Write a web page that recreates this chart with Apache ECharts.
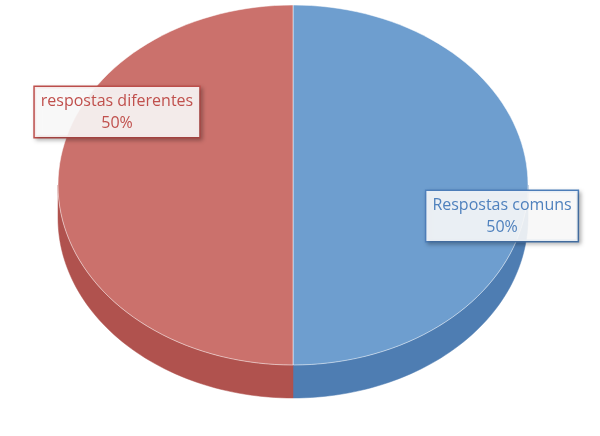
<!DOCTYPE html>
<html>
<head>
<meta charset="utf-8">
<script src="https://cdn.jsdelivr.net/npm/echarts@6/dist/echarts.min.js"></script>
<style>html,body{margin:0;background:#fff}#c{width:600px;height:436px}</style>
</head>
<body>
<div id="c"></div>
<script>
const names = ['Respostas comuns', 'respostas diferentes'];
const values = [50, 50];
const topColors = ['#6E9ECF', '#CB716C'];
const sideColors = ['#4E7DB2', '#B0524E'];
const textColors = ['#4F81BD', '#C0504D'];
const labelPos = [[502, 216], [117, 112]];

const chart = echarts.init(document.getElementById('c'));
const total = values.reduce((a, b) => a + b, 0);
const cx = 293, cy = 185, rx = 235, ry = 180, depth = 33;
const pt = (t, dy) => [cx + rx * Math.sin(t), cy - ry * Math.cos(t) + (dy || 0)];

function renderItem(params, api) {
  const i = params.dataIndex;
  let start = 0;
  for (let k = 0; k < i; k++) start += values[k];
  const a = start / total * 2 * Math.PI;
  const b = (start + values[i]) / total * 2 * Math.PI;
  const children = [];
  // side wall (front half only)
  const s = Math.max(a, Math.PI / 2), e = Math.min(b, 3 * Math.PI / 2);
  if (e > s) {
    const up = [], down = [];
    for (let j = 0; j <= 60; j++) {
      const t = s + (e - s) * j / 60;
      up.push(pt(t));
      down.unshift(pt(t, depth));
    }
    children.push({ type: 'polygon', shape: { points: up.concat(down) },
      style: { fill: sideColors[i], stroke: sideColors[i], lineWidth: 0.5 } });
  }
  // top face
  const pts = [[cx, cy]];
  for (let j = 0; j <= 80; j++) pts.push(pt(a + (b - a) * j / 80));
  children.push({ type: 'polygon', shape: { points: pts },
    style: { fill: topColors[i], stroke: 'rgba(255,255,255,0.5)', lineWidth: 1 } });
  children.push({ type: 'text', x: labelPos[i][0], y: labelPos[i][1], z2: 10,
    style: { text: names[i] + '\n' + api.value(0) + '%', fill: textColors[i],
      font: '16px "Open Sans"', align: 'center', verticalAlign: 'middle', lineHeight: 22,
      backgroundColor: 'rgba(255,255,255,0.88)', borderColor: textColors[i], borderWidth: 1.5,
      padding: [4, 6, 2, 6], shadowColor: 'rgba(0,0,0,0.25)', shadowBlur: 4, shadowOffsetX: 2, shadowOffsetY: 2 } });
  return { type: 'group', children };
}

chart.setOption({
  animation: false,
  series: [{ type: 'custom', coordinateSystem: 'none', renderItem,
    data: values.map(v => [v]) }]
});
</script>
</body>
</html>
